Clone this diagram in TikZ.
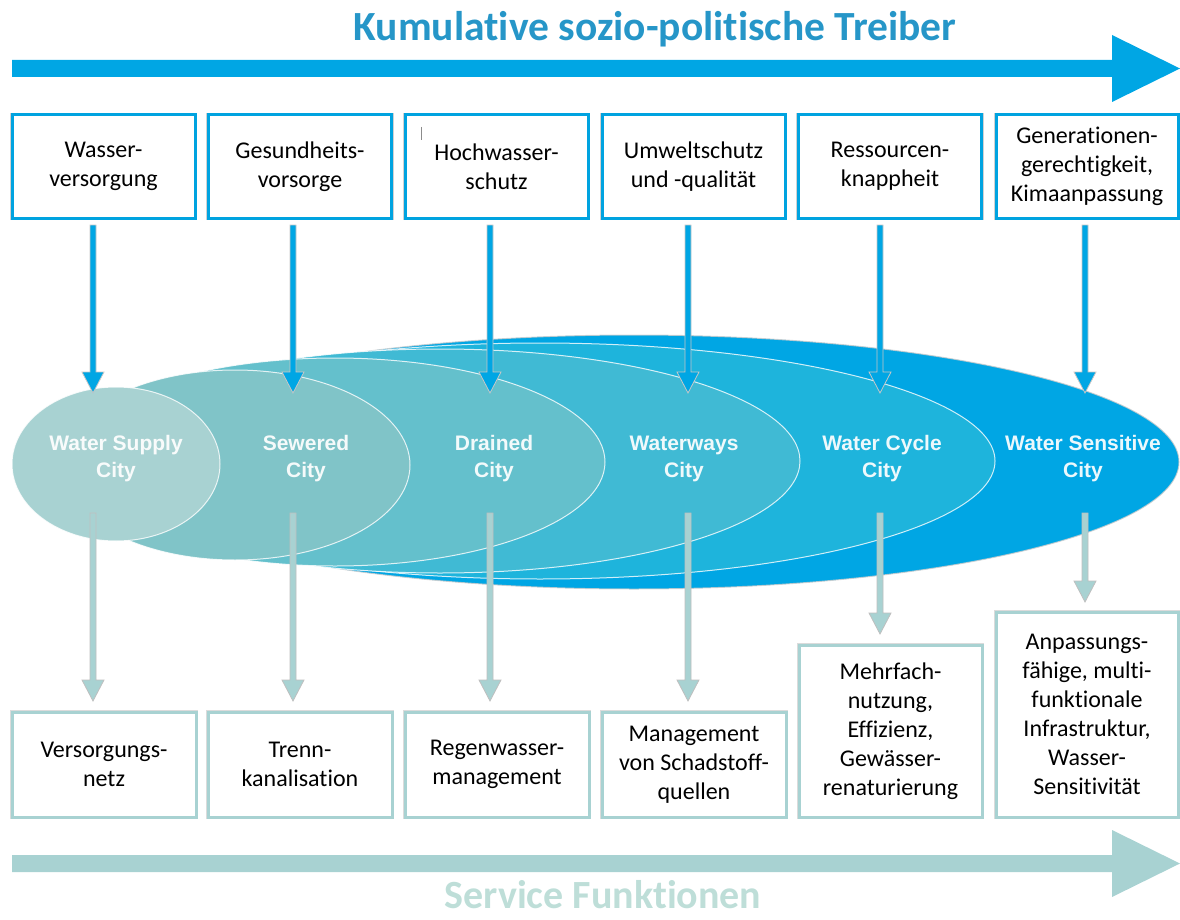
\documentclass[tikz,border=0pt]{standalone}
\usepackage{fontspec}
\setmainfont{Carlito}[RawFeature={-liga;-clig;-calt;-dlig}]
\newfontfamily\cityfont{Liberation Sans}
\usetikzlibrary{calc}
\definecolor{titleblue}{RGB}{38,150,200}
\definecolor{arrowblue}{RGB}{0,166,228}
\definecolor{boxblue}{RGB}{0,163,224}
\definecolor{tealA}{RGB}{168,210,210}
\definecolor{servicecol}{RGB}{190,222,216}
\definecolor{eA}{RGB}{168,210,210}
\definecolor{eB}{RGB}{128,196,200}
\definecolor{eC}{RGB}{100,192,204}
\definecolor{eD}{RGB}{64,186,212}
\definecolor{eE}{RGB}{30,180,220}
\definecolor{eF}{RGB}{0,166,228}
\newcommand{\blockarrow}[3]{\path[#1] let \p1=(#2), \p2=(#3) in
  (\x1-3pt,\y1) -- (\x1-3pt,\y2+21pt) -- (\x1-11pt,\y2+21pt) -- (\x1,\y2)
  -- (\x1+11pt,\y2+21pt) -- (\x1+3pt,\y2+21pt) -- (\x1+3pt,\y1) -- cycle;}
\tikzset{
  topbox/.style={draw=boxblue, line width=3pt, fill=white, inner sep=0pt,
    preaction={draw=black!18, line width=4.5pt},
    align=center, font=\fontsize{24}{29}\selectfont, text=black},
  botbox/.style={draw=tealA, line width=3pt, fill=white, inner sep=0pt,
    preaction={draw=black!14, line width=4.5pt},
    align=center, font=\fontsize{24}{29}\selectfont, text=black},
  citylabel/.style={align=center, text=white, text opacity=0.92,
    font=\cityfont\bfseries\fontsize{21}{27}\selectfont},
  toparrow/.style={fill=arrowblue, draw=black!22, line width=0.8pt},
  botarrow/.style={fill=tealA, draw=black!25, line width=0.8pt},
  ell/.style={draw=white, line width=1pt, draw opacity=0.8},
}
\begin{document}
\begin{tikzpicture}[x=1pt,y=-1pt]
\useasboundingbox (0,0) rectangle (1180,920);

% title and top arrow
\node[anchor=base, inner sep=0pt, text=titleblue, font=\bfseries\fontsize{41.5}{44}\selectfont] (title) at (655,41) {Kumulative sozio-politische Treiber};
\fill[arrowblue] (12,60) -- (1112,60) -- (1112,35) -- (1180,68.5) -- (1112,102) -- (1112,77) -- (12,77) -- cycle;

% top boxes
\node[topbox, minimum width=183pt, minimum height=103pt] (t1) at (103.5,166.5) {Wasser-\\versorgung};
\node[topbox, minimum width=183pt, minimum height=103pt] (t2) at (300,166.5) {Gesundheits-\\vorsorge};
\node[topbox, minimum width=183pt, minimum height=103pt] (t3) at (496.5,166.5) {Hochwasser-\\schutz};
\node[topbox, minimum width=183pt, minimum height=103pt] (t4) at (693.5,166.5) {Umweltschutz\\und -qualität};
\node[topbox, minimum width=183pt, minimum height=103pt] (t5) at (890,166.5) {Ressourcen-\\knappheit};
\node[topbox, minimum width=182pt, minimum height=103pt] (t6) at (1087,166.5) {Generationen-\\gerechtigkeit,\\Kimaanpassung};
\draw[black!45, line width=0.8pt] (421,127) -- (421,140);

% ellipses (outer to inner)
\draw[ell, fill=eF, draw=black!20] (634,462) ellipse [x radius=545, y radius=127];
\draw[ell, fill=eE] (540,461) ellipse [x radius=455, y radius=118];
\draw[ell, fill=eD] (440,461) ellipse [x radius=360, y radius=112];
\draw[ell, fill=eC] (335,462) ellipse [x radius=270, y radius=104];
\draw[ell, fill=eB] (235,465) ellipse [x radius=175, y radius=95];
\draw[ell, fill=eA] (116,464) ellipse [x radius=104, y radius=77];

% city labels
\node[citylabel] (c1) at (116,459) {Water Supply\\City};
\node[citylabel] (c2) at (306,459) {Sewered\\City};
\node[citylabel] (c3) at (494,459) {Drained\\City};
\node[citylabel] (c4) at (684,459) {Waterways\\City};
\node[citylabel] (c5) at (882,459) {Water Cycle\\City};
\node[citylabel] (c6) at (1083,459) {Water Sensitive\\City};

% top arrows (driver -> city)
\coordinate (ts1) at (93,225);   \coordinate (te1) at (93,393);
\coordinate (ts2) at (293,225);  \coordinate (te2) at (293,393);
\coordinate (ts3) at (490,225);  \coordinate (te3) at (490,393);
\coordinate (ts4) at (688,225);  \coordinate (te4) at (688,393);
\coordinate (ts5) at (880,225);  \coordinate (te5) at (880,393);
\coordinate (ts6) at (1085,225); \coordinate (te6) at (1085,393);
\foreach \i in {1,...,6} {\blockarrow{toparrow}{ts\i}{te\i}}

% bottom boxes
\node[botbox, minimum width=184pt, minimum height=105pt] (b1) at (104,764.5) {Versorgungs-\\netz};
\node[botbox, minimum width=184pt, minimum height=105pt] (b2) at (300,764.5) {Trenn-\\kanalisation};
\node[botbox, minimum width=184pt, minimum height=105pt] (b3) at (497,764.5) {Regenwasser-\\management};
\node[botbox, minimum width=184pt, minimum height=105pt] (b4) at (694,764.5) {Management\\von Schadstoff-\\quellen};
\node[botbox, minimum width=183pt, minimum height=172pt] (b5) at (890.5,731) {Mehrfach-\\nutzung,\\Effizienz,\\Gewässer-\\renaturierung};
\node[botbox, minimum width=182pt, minimum height=205pt] (b6) at (1087,714.5) {Anpassungs-\\fähige, multi-\\funktionale\\Infrastruktur,\\Wasser-\\Sensitivität};

% bottom arrows (city -> service)
\coordinate (bs1) at (93,513);   \coordinate (be1) at (93,701);
\coordinate (bs2) at (293,513);  \coordinate (be2) at (293,701);
\coordinate (bs3) at (490,513);  \coordinate (be3) at (490,701);
\coordinate (bs4) at (688,513);  \coordinate (be4) at (688,701);
\coordinate (bs5) at (880,513);  \coordinate (be5) at (880,634);
\coordinate (bs6) at (1085,513); \coordinate (be6) at (1085,602);
\foreach \i in {1,...,6} {\blockarrow{botarrow}{bs\i}{be\i}}

% bottom arrow and label
\fill[tealA] (12,855) -- (1112,855) -- (1112,830) -- (1180,863.5) -- (1112,897) -- (1112,872) -- (12,872) -- cycle;
\node[anchor=base, inner sep=0pt, text=servicecol, font=\bfseries\fontsize{40}{44}\selectfont] (service) at (603,908) {Service Funktionen};
\end{tikzpicture}
\end{document}
